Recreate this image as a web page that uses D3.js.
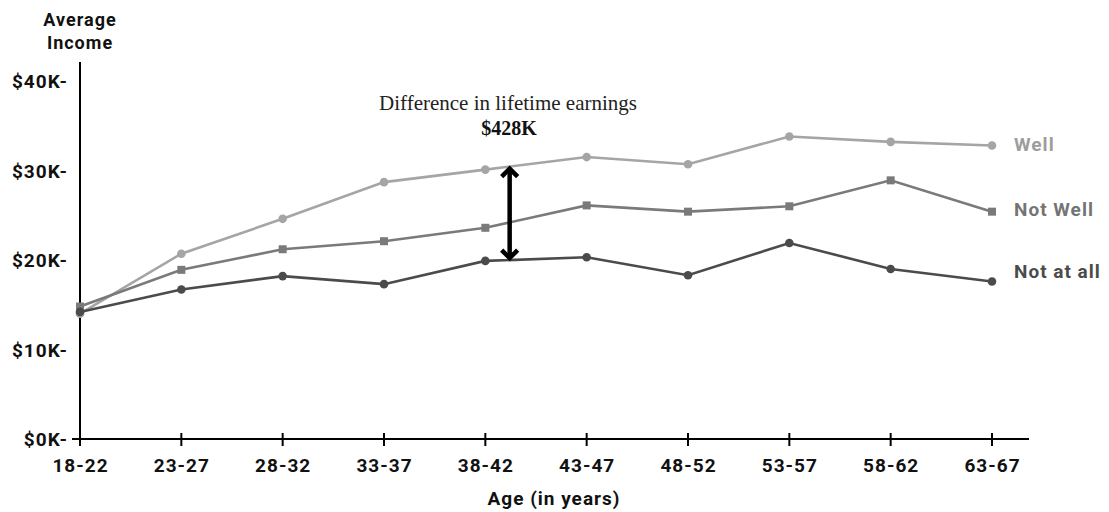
<!DOCTYPE html>
<html lang="en">
<head>
  <meta charset="UTF-8">
  <script src="https://d3js.org/d3.v7.min.js"></script>
  <title>Average Income by Age</title>
  <style>
    body { margin: 0; background: #fff; }
    svg text { font-family: Roboto, "Liberation Sans", sans-serif; font-weight: 700; letter-spacing: 1px; }
    svg text.serif { font-family: "Liberation Serif", "DejaVu Serif", serif; letter-spacing: 0; }
  </style>
</head>
<body>
  <script>
    // data (income in $K)
    const ageGroups = ["18-22", "23-27", "28-32", "33-37", "38-42", "43-47", "48-52", "53-57", "58-62", "63-67"]
    const wellValues = [14.0, 20.7, 24.6, 28.7, 30.1, 31.5, 30.7, 33.8, 33.2, 32.8]
    const notWellValues = [14.8, 18.9, 21.2, 22.1, 23.6, 26.1, 25.4, 26.0, 28.9, 25.4]
    const notAtAllValues = [14.2, 16.7, 18.2, 17.3, 19.9, 20.3, 18.3, 21.9, 19.0, 17.6]
    const yTicks = [0, 10, 20, 30, 40]
    const seriesNames = ["Well", "Not Well", "Not at all"]
    const annotationTitle = "Difference in lifetime earnings"
    const annotationValue = "$428K"

    /*=====================*/
    /* Setting Up SVG      */
    /*=====================*/
    const width = 1109
    const height = 512
    const svg = d3.select("body").append("svg")
                  .attr("width", width)
                  .attr("height", height)

    const xScale = d3.scalePoint()
                    .domain(ageGroups)
                    .range([80, 992])

    const yScale = d3.scaleLinear()
                    .domain([0, 40])
                    .range([439, 81])

    /*=====================*/
    /* Axes                */
    /*=====================*/
    // x axis line with ticks crossing it
    svg.append("line")
      .attr("x1", 72).attr("x2", 1029)
      .attr("y1", 439).attr("y2", 439)
      .attr("stroke", "#000").attr("stroke-width", 2)
    svg.selectAll(".xtick")
      .data(ageGroups)
      .enter()
      .append("line")
      .attr("x1", d => xScale(d)).attr("x2", d => xScale(d))
      .attr("y1", 433).attr("y2", 446)
      .attr("stroke", "#000").attr("stroke-width", 2)
    svg.selectAll(".xlabel")
      .data(ageGroups)
      .enter()
      .append("text")
      .attr("x", d => xScale(d) + 0.5)
      .attr("y", 472)
      .attr("text-anchor", "middle")
      .attr("font-size", 19)
      .attr("fill", "#111")
      .text(d => d)

    // y axis line
    svg.append("line")
      .attr("x1", 80).attr("x2", 80)
      .attr("y1", 62).attr("y2", 439)
      .attr("stroke", "#000").attr("stroke-width", 2)
    svg.selectAll(".ylabel")
      .data(yTicks)
      .enter()
      .append("text")
      .attr("x", 68)
      .attr("y", d => yScale(d) + 7)
      .attr("text-anchor", "end")
      .attr("font-size", 19)
      .attr("fill", "#111")
      .text(d => "$" + d + "K-")

    // axis titles
    svg.append("text")
      .attr("x", 80).attr("y", 26)
      .attr("text-anchor", "middle")
      .attr("font-size", 18)
      .attr("fill", "#111")
      .text("Average")
    svg.append("text")
      .attr("x", 80).attr("y", 49)
      .attr("text-anchor", "middle")
      .attr("font-size", 18)
      .attr("fill", "#111")
      .text("Income")
    svg.append("text")
      .attr("x", 554).attr("y", 505)
      .attr("text-anchor", "middle")
      .attr("font-size", 19)
      .attr("fill", "#111")
      .text("Age (in years)")

    /*=====================*/
    /* Lines and markers   */
    /*=====================*/
    const series = [
      { name: seriesNames[0], values: wellValues, color: "#a5a5a5", text: "#9d9d9d", shape: "circle", dy: 6 },
      { name: seriesNames[1], values: notWellValues, color: "#7a7a7a", text: "#747474", shape: "square", dy: 4 },
      { name: seriesNames[2], values: notAtAllValues, color: "#4b4b4b", text: "#4b4b4b", shape: "circle", dy: -3 }
    ]

    const line = d3.line()
                   .x((d, i) => xScale(ageGroups[i]))
                   .y(d => yScale(d))

    series.forEach(s => {
      svg.append("path")
        .datum(s.values)
        .attr("d", line)
        .attr("fill", "none")
        .attr("stroke", s.color)
        .attr("stroke-width", 2.6)

      if (s.shape === "circle") {
        svg.selectAll(null)
          .data(s.values)
          .enter()
          .append("circle")
          .attr("cx", (d, i) => xScale(ageGroups[i]))
          .attr("cy", d => yScale(d))
          .attr("r", 4.3)
          .attr("fill", s.color)
      } else {
        svg.selectAll(null)
          .data(s.values)
          .enter()
          .append("rect")
          .attr("x", (d, i) => xScale(ageGroups[i]) - 4)
          .attr("y", d => yScale(d) - 4)
          .attr("width", 8)
          .attr("height", 8)
          .attr("fill", s.color)
      }

      const last = s.values[s.values.length - 1]
      svg.append("text")
        .attr("x", 1014)
        .attr("y", yScale(last) + s.dy)
        .attr("font-size", 19)
        .attr("fill", s.text)
        .text(s.name)
    })

    /*=====================*/
    /* Annotation arrow    */
    /*=====================*/
    // arrow sits about a quarter of the way from 38-42 to 43-47
    const t = 0.24
    const ax = xScale(ageGroups[4]) + t * (xScale(ageGroups[5]) - xScale(ageGroups[4]))
    const topY = yScale(wellValues[4] + t * (wellValues[5] - wellValues[4])) + 1
    const botY = yScale(notAtAllValues[4] + t * (notAtAllValues[5] - notAtAllValues[4])) - 1
    const arrow = svg.append("g")
                     .attr("stroke", "#000")
                     .attr("stroke-width", 4.5)
                     .attr("fill", "none")
    arrow.append("line")
      .attr("x1", ax).attr("x2", ax)
      .attr("y1", topY + 2).attr("y2", botY - 2)
    arrow.append("path")
      .attr("d", `M${ax - 8},${topY + 9} L${ax},${topY + 1} L${ax + 8},${topY + 9}`)
    arrow.append("path")
      .attr("d", `M${ax - 8},${botY - 9} L${ax},${botY - 1} L${ax + 8},${botY - 9}`)

    svg.append("text")
      .attr("class", "serif")
      .attr("x", 508).attr("y", 110)
      .attr("text-anchor", "middle")
      .attr("font-size", 21)
      .style("font-weight", 400)
      .attr("fill", "#222")
      .text(annotationTitle)
    svg.append("text")
      .attr("class", "serif")
      .attr("x", 509).attr("y", 135)
      .attr("text-anchor", "middle")
      .attr("font-size", 20)
      .attr("fill", "#111")
      .text(annotationValue)
  </script>
</body>
</html>
